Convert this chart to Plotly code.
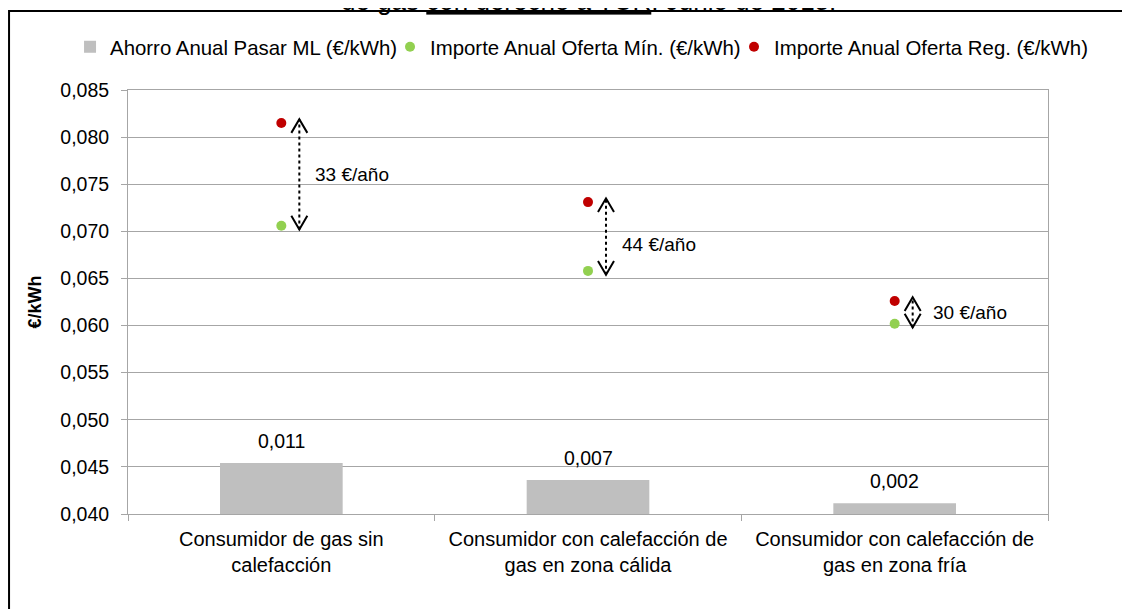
import plotly.graph_objects as go

# ---- data ----
categories = [
    "Consumidor de gas sin<br>calefacción",
    "Consumidor con calefacción de<br>gas en zona cálida",
    "Consumidor con calefacción de<br>gas en zona fría",
]
ahorro_pasar_ml = [0.0108, 0.0072, 0.0023]          # €/kWh (bars, secondary scale)
importe_oferta_min = [0.0706, 0.0658, 0.0602]       # €/kWh (green points)
importe_oferta_reg = [0.0815, 0.0731, 0.0626]       # €/kWh (red points)
ahorro_anual_labels = ["33 €/año", "44 €/año", "30 €/año"]
y_tick_values = [0.040, 0.045, 0.050, 0.055, 0.060, 0.065, 0.070, 0.075, 0.080, 0.085]

series_names = [
    "Ahorro Anual Pasar ML (€/kWh)",
    "Importe Anual Oferta Mín. (€/kWh)",
    "Importe Anual Oferta Reg. (€/kWh)",
]

FONT = "Liberation Sans, Arial, sans-serif"
GRID = "#A6A6A6"

fig = go.Figure()
fig.add_trace(go.Bar(
    x=categories, y=ahorro_pasar_ml, name=series_names[0], legend="legend",
    marker=dict(color="#BFBFBF", line=dict(width=0)), width=0.4, yaxis="y2",
))
fig.add_trace(go.Scatter(
    x=categories, y=importe_oferta_min, mode="markers", name=series_names[1],
    legend="legend2", marker=dict(color="#92D050", size=10),
))
fig.add_trace(go.Scatter(
    x=categories, y=importe_oferta_reg, mode="markers", name=series_names[2],
    legend="legend3", marker=dict(color="#C00000", size=10),
))

shapes = []
annotations = []
ARROW_DX = 18       # px offset of the arrows from the category centre
HEAD_W = 8          # px half width of the arrow heads
HEAD_H = 0.00145    # arrow head length in €/kWh
for i in range(len(categories)):
    top = importe_oferta_reg[i] + 0.0004
    bot = importe_oferta_min[i] - 0.0004
    h = min(HEAD_H, (top - bot) / 2)
    common = dict(xref="x", yref="y", xsizemode="pixel", xanchor=i)
    shapes.append(dict(type="line", x0=ARROW_DX, x1=ARROW_DX, y0=bot, y1=top,
                       line=dict(color="black", width=2, dash="dot"), **common))
    shapes.append(dict(type="path",
                       path=f"M {ARROW_DX-HEAD_W},{top-h} L {ARROW_DX},{top} L {ARROW_DX+HEAD_W},{top-h}",
                       line=dict(color="black", width=2), **common))
    shapes.append(dict(type="path",
                       path=f"M {ARROW_DX-HEAD_W},{bot+h} L {ARROW_DX},{bot} L {ARROW_DX+HEAD_W},{bot+h}",
                       line=dict(color="black", width=2), **common))
    annotations.append(dict(
        x=i, xref="x", y=(top + bot) / 2, yref="y", text=ahorro_anual_labels[i],
        showarrow=False, xanchor="left", yanchor="middle",
        xshift=32 if i < 2 else 36, yshift=-8 if i == 1 else 0,
        font=dict(size=19, color="black", family=FONT),
    ))
    # value label on the bars
    annotations.append(dict(
        x=i, xref="x", y=ahorro_pasar_ml[i], yref="y2",
        text=f"{ahorro_pasar_ml[i]:.3f}".replace(".", ","),
        showarrow=False, xanchor="center", yanchor="bottom", yshift=9,
        font=dict(size=19.5, color="black", family=FONT),
    ))

# partially visible title at the top of the image
annotations.append(dict(
    x=0.5, xref="paper", y=1.1705, yref="paper", xanchor="center", yanchor="bottom",
    text="de gas <u>con derecho a TUR</u>. Junio de 2015.", showarrow=False,
    font=dict(size=26, color="black", family=FONT),
))

# outer chart frame
shapes.append(dict(type="rect", xref="paper", yref="paper",
                   x0=-0.1293, x1=1.3, y0=-0.5, y1=1.1863,
                   line=dict(color="black", width=2), layer="below"))

legend_common = dict(orientation="h", xanchor="left", y=1.1014, yanchor="middle",
                     font=dict(size=20.4), itemwidth=30, bgcolor="rgba(0,0,0,0)")

fig.update_layout(
    width=1130, height=609,
    margin=dict(l=120, r=90, t=82, b=103, autoexpand=False),
    paper_bgcolor="white", plot_bgcolor="white",
    separators=",.",
    font=dict(family=FONT, size=18, color="black"),
    showlegend=True,
    legend=dict(x=-0.0630, **legend_common),
    legend2=dict(x=0.2848, **legend_common),
    legend3=dict(x=0.6587, **legend_common),
    xaxis=dict(type="category", showline=True, linecolor=GRID, linewidth=1, mirror=True,
               ticks="outside", tickson="boundaries", ticklen=6, tickcolor=GRID,
               ticklabelstandoff=7,
               showgrid=False, tickfont=dict(size=20)),
    yaxis=dict(range=[0.040, 0.085], tickvals=y_tick_values, tickformat=".3f",
               showgrid=True, gridcolor=GRID, gridwidth=1,
               showline=True, linecolor=GRID, linewidth=1, mirror=True,
               ticks="outside", ticklen=6, tickcolor=GRID, ticklabelstandoff=8,
               zeroline=False, tickfont=dict(size=19.5),
               title=dict(text="<b>€/kWh</b>", font=dict(size=18), standoff=13)),
    yaxis2=dict(range=[0, 0.09], overlaying="y", side="right", visible=False,
                showgrid=False, zeroline=False),
    shapes=shapes,
    annotations=annotations,
    bargap=0.6,
)

fig.write_html("out.html")
